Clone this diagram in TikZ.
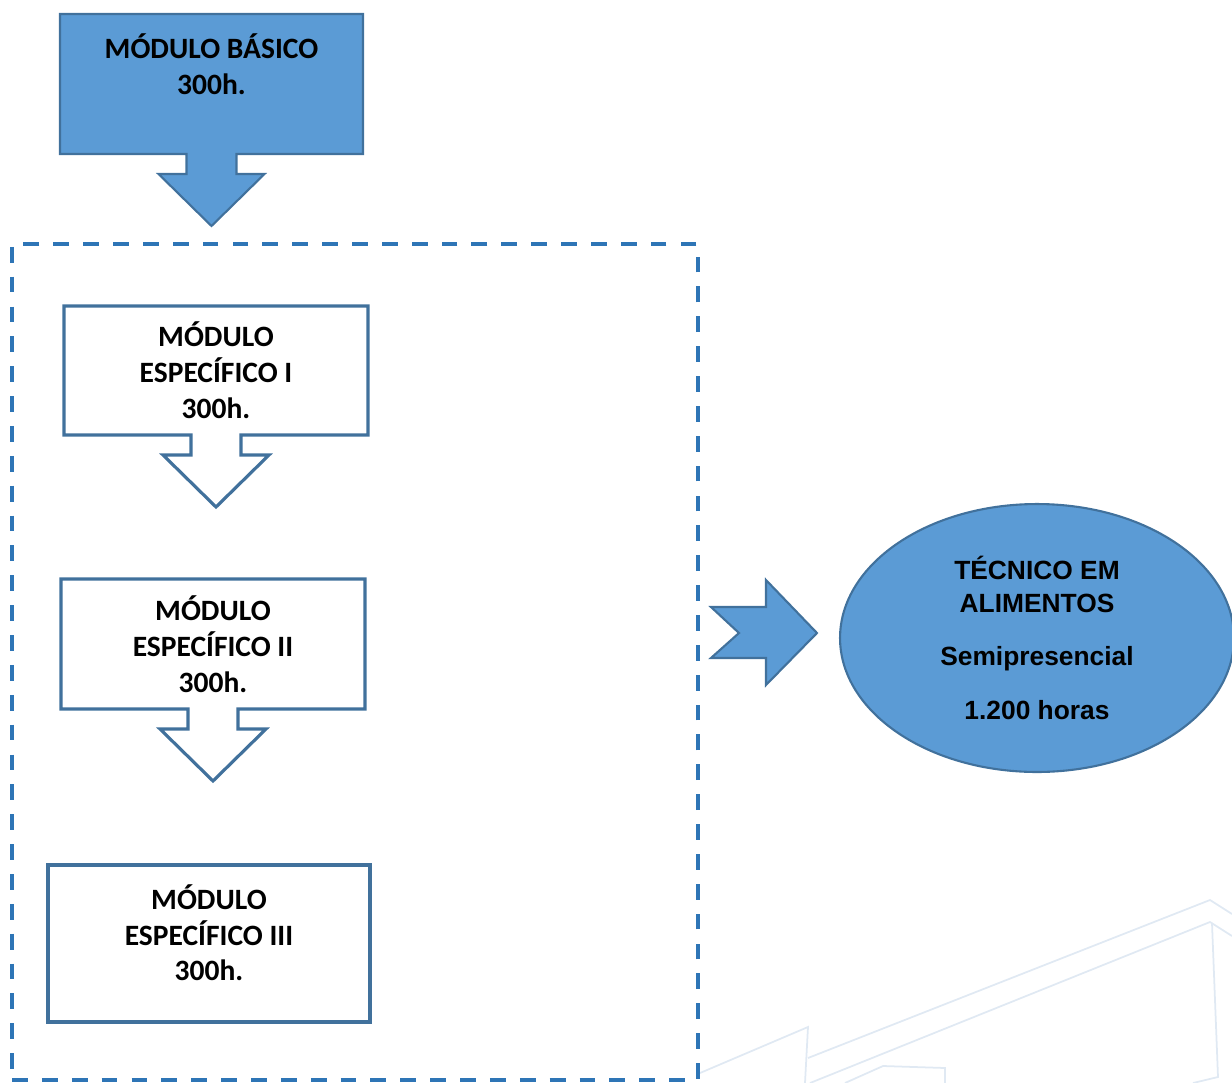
\documentclass[tikz,border=0pt]{standalone}
\usepackage{fontspec}
\setmainfont{Carlito}
\newfontfamily\arialfont{Liberation Sans}
\usetikzlibrary{shapes.geometric, calc, backgrounds}
\definecolor{boxblue}{HTML}{5B9BD5}
\definecolor{edgeblue}{HTML}{41719C}
\definecolor{dashblue}{HTML}{2E75B6}
\definecolor{markblue}{HTML}{E0E9F3}

\begin{document}
\begin{tikzpicture}[
    x=0.02cm, y=-0.02cm,
    modbox/.style={rectangle, outer sep=0pt, inner sep=0pt, align=center, font=\bfseries\fontsize{16.8}{20.4}\selectfont},
    callfill/.style={draw=edgeblue, line width=1.2pt, fill=boxblue},
    callwhite/.style={draw=edgeblue, line width=1.8pt, fill=white},
    frame/.style={rectangle, draw=dashblue, line width=2.6pt, dash pattern=on 9pt off 8pt, minimum width=13.72cm, minimum height=16.72cm},
    course/.style={ellipse, draw=edgeblue, line width=1.2pt, fill=boxblue, minimum width=7.88cm, minimum height=5.36cm, inner sep=0pt, align=center, font=\arialfont\bfseries\fontsize{15}{18.7}\selectfont},
    logoline/.style={draw=markblue, line width=1pt}
]
\useasboundingbox (0,0) rectangle (1232,1083);

% faint logo lines in the corner
\draw[logoline] (700,1073) -- (808,1027) -- (805,1083);
\draw[logoline] (808,1058) -- (1210,900) -- (1232,914);
\draw[logoline] (810,1083) -- (1210,922) -- (1232,936);
\draw[logoline] (1212,923) -- (1218,1077) -- (1193,1083);
\draw[logoline] (845,1083) -- (883,1066) -- (945,1068) -- (945,1083);

\node[modbox, minimum width=6.06cm, minimum height=2.8cm] (basico) at (211.5,84) {MÓDULO BÁSICO\\300h.\\[2pt]\mbox{}};
\node[frame] (grupo) at (355,662) {};
\node[modbox, minimum width=6.08cm, minimum height=2.58cm] (esp1) at (216,370.5) {MÓDULO\\ESPECÍFICO I\\300h.};
\node[modbox, minimum width=6.08cm, minimum height=2.6cm] (esp2) at (213,644) {MÓDULO\\ESPECÍFICO II\\300h.};
\node[modbox, draw=edgeblue, line width=1.8pt, minimum width=6.44cm, minimum height=3.14cm] (esp3) at (209,943.5) {MÓDULO\\ESPECÍFICO III\\300h.\\[-8pt]\mbox{}};
\node[course] (curso) at (1037,638) {TÉCNICO EM\\ALIMENTOS\\[12pt]Semipresencial\\[12pt]1.200 horas};

% box outlines with their down arrows
\begin{scope}[on background layer]
\foreach \b/\s in {basico/callfill, esp1/callwhite, esp2/callwhite}
  \draw[\s] (\b.south east) -- (\b.north east) -- (\b.north west) -- (\b.south west)
    -- ($(\b.south)+(-25,0)$) -- ++(0,20) -- ++(-28,0) -- ++(53,52) -- ++(53,-52) -- ++(-28,0) -- ++(0,-20) -- cycle;
\end{scope}

% arrow to the course
\coordinate (tip) at ($(curso.west)+(-22,-5)$);
\draw[callfill] (tip) -- ++(-51,-53) -- ++(0,27) -- ++(-55,0) -- ++(28,26) -- ++(-28,25) -- ++(55,0) -- ++(0,27) -- cycle;
\end{tikzpicture}
\end{document}
